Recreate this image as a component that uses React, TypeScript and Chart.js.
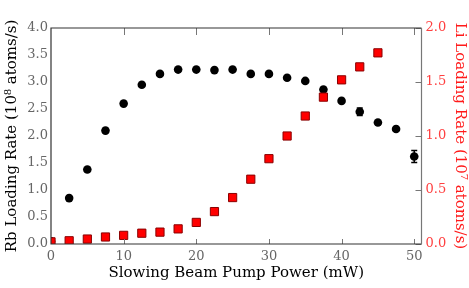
import React, { useEffect, useRef } from "react";
import { Chart, registerables } from "chart.js";

Chart.register(...registerables);

const powerMW = [0, 2.5, 5, 7.5, 10, 12.5, 15, 17.5, 20, 22.5, 25, 27.5, 30, 32.5, 35, 37.5, 40, 42.5, 45, 47.5, 50];
const rbRate = [0.05, 0.85, 1.38, 2.1, 2.6, 2.95, 3.15, 3.23, 3.23, 3.22, 3.23, 3.15, 3.15, 3.08, 3.02, 2.86, 2.65, 2.45, 2.25, 2.13, 1.62];
const rbError = [0, 0, 0, 0, 0, 0, 0, 0, 0, 0, 0, 0, 0, 0, 0, 0, 0, 0.07, 0, 0, 0.11];
const liPower = [0, 2.5, 5, 7.5, 10, 12.5, 15, 17.5, 20, 22.5, 25, 27.5, 30, 32.5, 35, 37.5, 40, 42.5, 45];
const liRate = [0.02, 0.03, 0.046, 0.065, 0.08, 0.1, 0.11, 0.14, 0.2, 0.3, 0.43, 0.6, 0.79, 1.0, 1.185, 1.36, 1.52, 1.64, 1.77];
const xTicks = [0, 10, 20, 30, 40, 50];
const rbTicks = [0, 0.5, 1, 1.5, 2, 2.5, 3, 3.5, 4];
const liTicks = [0, 0.5, 1, 1.5, 2];

const FONT = "'DejaVu Serif', serif";

const framePlugin = {
  id: "frame",
  afterDatasetsDraw(chart: any) {
    const ctx = chart.ctx;
    const x = chart.scales.x;
    const y = chart.scales.y;
    const y1 = chart.scales.y1;
    const { left, right, top, bottom } = chart.chartArea;
    ctx.save();
    // error bars
    ctx.strokeStyle = "#000";
    ctx.lineWidth = 1.5;
    rbError.forEach((e, i) => {
      if (!e) return;
      const px = x.getPixelForValue(powerMW[i]);
      const pTop = y.getPixelForValue(rbRate[i] + e);
      const pBot = y.getPixelForValue(rbRate[i] - e);
      ctx.beginPath();
      ctx.moveTo(px, pTop);
      ctx.lineTo(px, pBot);
      ctx.moveTo(px - 3, pTop);
      ctx.lineTo(px + 3, pTop);
      ctx.moveTo(px - 3, pBot);
      ctx.lineTo(px + 3, pBot);
      ctx.stroke();
    });
    // ticks
    ctx.lineWidth = 1;
    ctx.strokeStyle = "#777";
    xTicks.forEach((t) => {
      if (t === 0) return;
      const px = Math.round(x.getPixelForValue(t)) + 0.5;
      ctx.beginPath();
      ctx.moveTo(px, top);
      ctx.lineTo(px, top + 7);
      ctx.moveTo(px, bottom);
      ctx.lineTo(px, bottom - 5);
      ctx.stroke();
    });
    liTicks.forEach((t) => {
      const py = Math.round(y1.getPixelForValue(t)) + 0.5;
      ctx.beginPath();
      ctx.moveTo(right, py);
      ctx.lineTo(right - 6, py);
      ctx.stroke();
    });
    // frame
    ctx.lineWidth = 1.2;
    ctx.strokeStyle = "#333";
    ctx.beginPath();
    ctx.moveTo(right, top);
    ctx.lineTo(left, top);
    ctx.lineTo(left, bottom);
    ctx.lineTo(right, bottom);
    ctx.stroke();
    ctx.strokeStyle = "#777";
    ctx.beginPath();
    ctx.moveTo(right, top);
    ctx.lineTo(right, bottom);
    ctx.stroke();
    ctx.restore();
  },
};

export default function App() {
  const ref = useRef<HTMLCanvasElement>(null);
  useEffect(() => {
    if (!ref.current) return;
    const chart = new Chart(ref.current, {
      type: "scatter",
      data: {
        datasets: [
          {
            label: "Rb",
            data: powerMW.map((p, i) => ({ x: p, y: rbRate[i] })),
            yAxisID: "y",
            pointStyle: "circle",
            pointRadius: 4.3,
            backgroundColor: "#000",
            borderColor: "#000",
            borderWidth: 0,
            order: 1,
          },
          {
            label: "Li",
            data: liPower.map((p, i) => ({ x: p, y: liRate[i] })),
            yAxisID: "y1",
            pointStyle: "rect",
            pointRadius: 5.8,
            backgroundColor: "#ff0000",
            borderColor: "#8a0000",
            borderWidth: 1,
            order: 0,
          },
        ],
      },
      plugins: [framePlugin],
      options: {
        animation: false,
        responsive: true,
        maintainAspectRatio: false,
        layout: { padding: { top: 28, left: 0, right: 0, bottom: 0 } },
        plugins: { legend: { display: false }, tooltip: { enabled: false } },
        scales: {
          x: {
            type: "linear",
            min: 0,
            max: 51,
            afterBuildTicks: (s: any) => {
              s.ticks = xTicks.map((v) => ({ value: v }));
            },
            afterFit: (s: any) => {
              s.height = 44;
            },
            grid: { display: false, drawTicks: false },
            border: { display: false },
            ticks: { color: "#666", font: { family: FONT, size: 13 }, padding: 5, maxRotation: 0 },
            title: {
              display: true,
              text: "Slowing Beam Pump Power (mW)",
              color: "#000",
              font: { family: FONT, size: 15 },
              padding: { top: 0, bottom: 6 },
            },
          },
          y: {
            type: "linear",
            position: "left",
            min: 0,
            max: 4,
            afterBuildTicks: (s: any) => {
              s.ticks = rbTicks.map((v) => ({ value: v }));
            },
            afterFit: (s: any) => {
              s.width = 51;
            },
            grid: { display: false, drawTicks: false },
            border: { display: false },
            ticks: {
              color: "#666",
              font: { family: FONT, size: 13 },
              padding: 3,
              callback: (v: any) => Number(v).toFixed(1),
            },
            title: {
              display: true,
              text: "Rb Loading Rate (10⁸ atoms/s)",
              color: "#000",
              font: { family: FONT, size: 15 },
              padding: { top: 3, bottom: 0 },
            },
          },
          y1: {
            type: "linear",
            position: "right",
            min: 0,
            max: 2,
            afterBuildTicks: (s: any) => {
              s.ticks = liTicks.map((v) => ({ value: v }));
            },
            afterFit: (s: any) => {
              s.width = 47.5;
            },
            grid: { display: false, drawTicks: false },
            border: { display: false },
            ticks: {
              color: "#ff4040",
              font: { family: FONT, size: 13 },
              padding: 4,
              callback: (v: any) => Number(v).toFixed(1),
            },
            title: {
              display: true,
              text: "Li Loading Rate (10⁷ atoms/s)",
              color: "#ff1a1a",
              font: { family: FONT, size: 15 },
              padding: { top: 0, bottom: 0 },
            },
          },
        },
      },
    } as any);
    return () => chart.destroy();
  }, []);
  return (
    <div style={{ position: "fixed", left: 0, top: 0, width: 469, height: 288, background: "#fff" }}>
      <canvas ref={ref} />
    </div>
  );
}
